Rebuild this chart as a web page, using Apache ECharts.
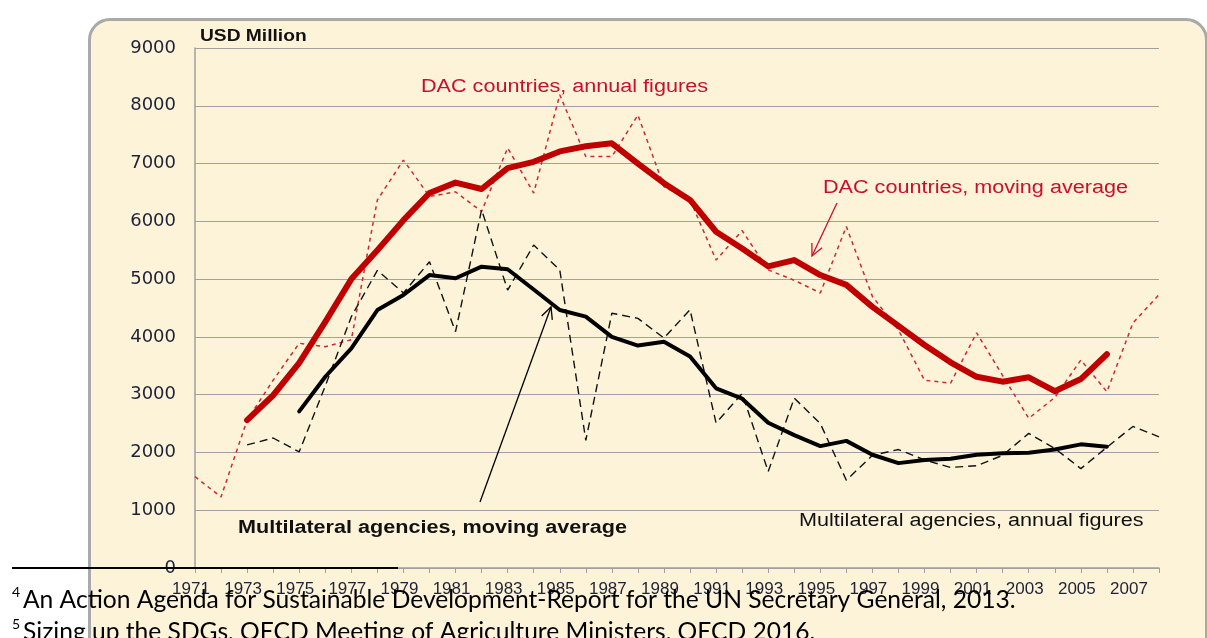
<!DOCTYPE html>
<html>
<head>
<meta charset="utf-8">
<script src="https://cdn.jsdelivr.net/npm/echarts@6/dist/echarts.min.js"></script>
<style>
  html, body { margin: 0; padding: 0; background: #ffffff; overflow: hidden; }
  #box {
    position: absolute; left: 88px; top: 18px; width: 1114px; height: 700px;
    background: #fdf3d9; border: 3px solid #a9a9a9; border-radius: 22px;
  }
  #main { position: absolute; left: 0; top: 0; width: 1207px; height: 638px; }
</style>
</head>
<body>
<div id="box"></div>
<div id="main"></div>
<script>
// 年份（横轴）
const years = [];
for (let y = 1971; y <= 2008; y++) years.push(String(y));

// DAC countries, annual figures
const dacAnnual = [1580, 1230, 2560, 3250, 3890, 3830, 3950, 6370, 7060, 6430,
  6510, 6170, 7270, 6490, 8190, 7120, 7120, 7840, 6600, 6370,
  5330, 5840, 5160, 4980, 4760, 5910, 4700, 4120, 3250, 3200,
  4070, 3330, 2590, 2950, 3600, 3050, 4240, 4730];

// DAC countries, moving average
const dacAvg = [null, null, 2560, 2990, 3550, 4260, 5000, 5500, 6020, 6490,
  6670, 6560, 6920, 7030, 7210, 7300, 7350, 7000, 6660, 6370,
  5820, 5530, 5220, 5330, 5070, 4900, 4520, 4190, 3860, 3560,
  3310, 3225, 3300, 3060, 3270, 3700, null, null];

// Multilateral agencies, annual figures
const multiAnnual = [null, null, 2130, 2250, 2010, 3150, 4350, 5150, 4760, 5300,
  4090, 6200, 4810, 5590, 5160, 2210, 4410, 4320, 3980, 4470,
  2510, 3020, 1670, 2940, 2500, 1520, 1950, 2050, 1870, 1740,
  1770, 1950, 2330, 2070, 1720, 2090, 2450, 2270];

// Multilateral agencies, moving average
const multiAvg = [null, null, null, null, 2710, 3310, 3800, 4465, 4725, 5070,
  5015, 5215, 5170, 4820, 4465, 4350, 4000, 3850, 3915, 3660,
  3110, 2930, 2515, 2300, 2110, 2200, 1960, 1815, 1870, 1890,
  1960, 1985, 1995, 2050, 2140, 2100, null, null];

const red = '#c00000';
const textRed = '#c8102e';
const axisGray = '#a0a0a0';
const labelColor = '#1e2238';
const font = '"Liberation Sans", Arial, sans-serif';
const noteFont = 'Lato, sans-serif';

const myChart = echarts.init(document.getElementById('main'));

// 横向拉伸的文字（原图的文字都被横向拉宽了一点）
function label(text, x, y, size, color, bold) {
  return {
    type: 'text', z: 50, x: x, y: y, scaleX: 1.2,
    style: { text: text, fontSize: size, fill: color, fontFamily: font,
      fontWeight: bold ? 'bold' : 'normal', verticalAlign: 'middle', align: 'left' }
  };
}

// 箭头：线段 + 开口箭头
function arrow(x1, y1, x2, y2, color, head) {
  const a = Math.atan2(y2 - y1, x2 - x1);
  const s = 0.45;
  return [
    { type: 'line', z: 50, shape: { x1, y1, x2, y2 }, style: { stroke: color, lineWidth: 1.3 } },
    { type: 'polyline', z: 50, shape: { points: [
        [x2 - head * Math.cos(a - s), y2 - head * Math.sin(a - s)],
        [x2, y2],
        [x2 - head * Math.cos(a + s), y2 - head * Math.sin(a + s)]
      ] }, style: { stroke: color, lineWidth: 1.3, fill: null } }
  ];
}

const option = {
  backgroundColor: 'transparent',
  animation: false,
  grid: { left: 195, right: 48, top: 48, bottom: 70, containLabel: false },
  xAxis: {
    type: 'category',
    data: years,
    boundaryGap: false,
    axisLine: { lineStyle: { color: axisGray, width: 1.5 } },
    axisTick: { show: true, length: 5, interval: 0, lineStyle: { color: axisGray } },
    axisLabel: { interval: 1, color: labelColor, fontSize: 17,
      fontFamily: '"Liberation Sans Narrow", "Liberation Sans", Arial, sans-serif',
      margin: 13, padding: [0, 8, 0, 0] },
    splitLine: { show: false }
  },
  yAxis: {
    type: 'value',
    min: 0, max: 9000, interval: 1000,
    axisLine: { show: true, lineStyle: { color: axisGray, width: 1.5 } },
    axisTick: { show: false },
    axisLabel: { color: labelColor, fontSize: 18, fontFamily: '"DejaVu Sans", sans-serif', margin: 19,
      formatter: function (v) { return String(v); } },
    splitLine: { lineStyle: { color: axisGray, width: 1.2 } }
  },
  series: [
    { name: 'DAC countries, annual figures', type: 'line', data: dacAnnual, showSymbol: false,
      lineStyle: { color: '#cc2a32', width: 1.5, type: [4, 4] }, z: 3 },
    { name: 'Multilateral agencies, annual figures', type: 'line', data: multiAnnual, showSymbol: false,
      lineStyle: { color: '#111111', width: 1.4, type: [8, 5] }, z: 3 },
    { name: 'DAC countries, moving average', type: 'line', data: dacAvg, showSymbol: false,
      lineStyle: { color: red, width: 6, cap: 'round', join: 'round' }, z: 4 },
    { name: 'Multilateral agencies, moving average', type: 'line', data: multiAvg, showSymbol: false,
      lineStyle: { color: '#000000', width: 4, cap: 'round', join: 'round' }, z: 5 }
  ],
  graphic: [
    label('USD Million', 200, 37, 16, '#111', true),
    label('DAC countries, annual figures', 421, 87, 18, textRed, false),
    label('DAC countries, moving average', 823, 188, 18, textRed, false),
    label('Multilateral agencies, moving average', 238, 528, 18, '#111', true),
    label('Multilateral agencies, annual figures', 799, 521, 18, '#111', false),
    ...arrow(837, 203, 812, 256, textRed, 13),
    ...arrow(480, 502, 551, 307, '#000000', 13),
    // 脚注
    { type: 'line', z: 60, shape: { x1: 12, y1: 568, x2: 398, y2: 568 }, style: { stroke: '#000', lineWidth: 2 } },
    { type: 'text', z: 60, left: 12, top: 585, style: { text: '4', fontSize: 14, fill: '#000', fontFamily: noteFont } },
    { type: 'text', z: 60, left: 23, top: 588, style: { text: 'An Action Agenda for Sustainable Development-Report for the UN Secretary General, 2013.', fontSize: 24.6, fill: '#000', fontFamily: noteFont } },
    { type: 'text', z: 60, left: 12, top: 617, style: { text: '5', fontSize: 14, fill: '#000', fontFamily: noteFont } },
    { type: 'text', z: 60, left: 23, top: 620, style: { text: 'Sizing up the SDGs, OECD Meeting of Agriculture Ministers, OECD 2016.', fontSize: 24.6, fill: '#000', fontFamily: noteFont } }
  ]
};

myChart.setOption(option);
</script>
</body>
</html>
